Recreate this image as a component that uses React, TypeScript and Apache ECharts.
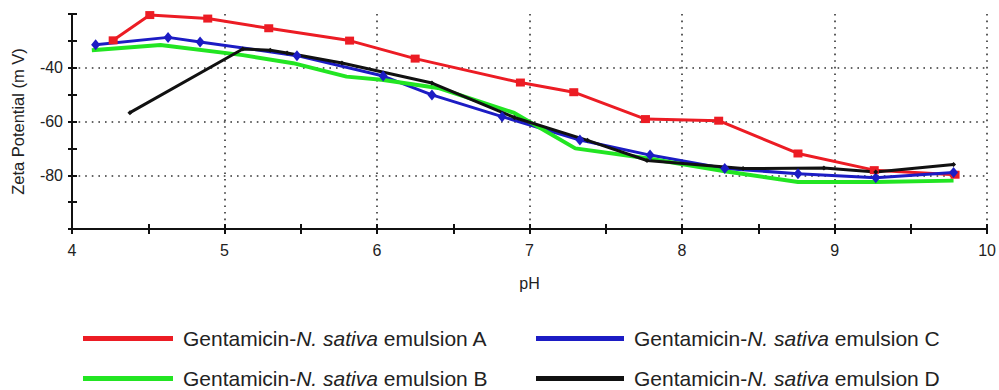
import React, { useEffect, useRef } from "react";
import * as echarts from "echarts";

// Emulsion A (red)
const phA = [4.27, 4.51, 4.89, 5.29, 5.82, 6.25, 6.94, 7.29, 7.76, 8.24, 8.76, 9.26, 9.79];
const zetaA = [-29.8, -20.4, -21.7, -25.3, -29.9, -36.6, -45.5, -49.1, -59.1, -59.7, -71.9, -78.1, -79.8];
// Emulsion B (green)
const phB = [4.13, 4.58, 5.12, 5.45, 5.8, 6.03, 6.4, 6.9, 7.3, 7.78, 8.28, 8.76, 9.27, 9.78];
const zetaB = [-33.5, -31.5, -35.3, -38.3, -43.3, -44.5, -47.5, -56.8, -70, -73.8, -78.5, -82.5, -82.5, -82];
// Emulsion C (blue)
const phC = [4.155, 4.63, 4.84, 5.475, 6.04, 6.36, 6.82, 7.33, 7.79, 8.28, 8.76, 9.27, 9.78];
const zetaC = [-31.4, -28.7, -30.4, -35.5, -43.1, -50.1, -58.2, -66.9, -72.5, -77.5, -79.4, -80.9, -79.0];
// Emulsion D (black)
const phD = [4.38, 5.12, 5.3, 5.41, 5.77, 6.36, 6.9, 7.38, 7.77, 8.4, 8.93, 9.27, 9.78];
const zetaD = [-56.7, -33.0, -33.5, -34.5, -38.2, -45.7, -58.5, -67.0, -74.5, -77.5, -77.3, -78.8, -76.0];

const seriesNames = [
  "Gentamicin-N. sativa emulsion A",
  "Gentamicin-N. sativa emulsion B",
  "Gentamicin-N. sativa emulsion C",
  "Gentamicin-N. sativa emulsion D",
];
const yLabelValues = [-40, -60, -80];
const xName = "pH";
const yName = "Zeta Potential (m V)";

function pairs(xs: number[], ys: number[]) {
  return xs.map((x, i) => [x, ys[i]]);
}

export default function App() {
  const ref = useRef<HTMLDivElement>(null);
  useEffect(() => {
    const chart = echarts.init(ref.current!, null, { renderer: "svg" });
    const font = '"Liberation Sans", Arial, sans-serif';
    const axisColor = "#111";
    const dotted: any = { color: "#333", width: 1.6, type: [1.6, 5] };
    const legendFormatter = (name: string) => {
      const m = name.match(/^(.*-)(N\. sativa)( .*)$/);
      if (!m) return name;
      return `{s|}{n|${m[1]}}{i|${m[2]}}{n|${m[3]}}`;
    };
    const rich = {
      s: { width: 5 },
      n: { fontSize: 21, fontFamily: font, color: "#222" },
      i: { fontSize: 21, fontFamily: font, color: "#222", fontStyle: "italic" },
    };
    const legendBase = {
      orient: "vertical",
      icon: "rect",
      itemWidth: 90,
      itemHeight: 5,
      itemGap: 19,
      padding: 0,
      top: 328,
      formatter: legendFormatter,
      textStyle: { fontSize: 21, fontFamily: font, color: "#222", rich },
    };
    chart.setOption({
      animation: false,
      backgroundColor: "#fff",
      grid: { left: 72, right: 9, top: 14, bottom: 161, containLabel: false },
      legend: [
        { ...legendBase, left: 83, data: [seriesNames[0], seriesNames[1]] },
        { ...legendBase, left: 536, itemWidth: 88, data: [seriesNames[2], seriesNames[3]] },
      ],
      xAxis: [
        {
          type: "value",
          position: "bottom",
          min: 4,
          max: 10,
          interval: 0.5,
          name: xName,
          nameLocation: "middle",
          nameGap: 46,
          nameTextStyle: { fontSize: 16, fontFamily: font, color: "#222" },
          axisLine: { show: true, lineStyle: { color: axisColor, width: 2 } },
          axisTick: { show: true, inside: false, length: 5, lineStyle: { color: axisColor, width: 2 } },
          axisLabel: {
            fontSize: 16,
            fontFamily: font,
            color: "#222",
            margin: 13,
            formatter: (v: number) => (Number.isInteger(v) ? String(v) : ""),
          },
          splitLine: { show: false },
        },
        {
          type: "value",
          position: "bottom",
          min: 4,
          max: 10,
          interval: 0.5,
          axisLine: { show: false },
          axisTick: { show: true, inside: true, length: 5, lineStyle: { color: axisColor, width: 2 } },
          axisLabel: { show: false },
          splitLine: { show: false },
        },
        {
          type: "value",
          position: "bottom",
          min: 4,
          max: 10,
          interval: 1,
          axisLine: { show: false },
          axisTick: { show: false },
          axisLabel: { show: false },
          splitLine: { show: true, showMinLine: false, showMaxLine: true, lineStyle: dotted },
        },
      ],
      yAxis: [
        {
          type: "value",
          position: "left",
          min: -100,
          max: -20,
          interval: 10,
          name: yName,
          nameLocation: "middle",
          nameGap: 46,
          nameTextStyle: { fontSize: 16.5, fontFamily: font, color: "#222" },
          axisLine: { show: true, lineStyle: { color: axisColor, width: 2 } },
          axisTick: { show: true, inside: false, length: 4, lineStyle: { color: axisColor, width: 2 } },
          axisLabel: {
            fontSize: 16,
            fontFamily: font,
            color: "#222",
            margin: 9,
            formatter: (v: number) => (yLabelValues.includes(v) ? String(v) : ""),
          },
          splitLine: { show: false },
        },
        {
          type: "value",
          position: "left",
          min: -100,
          max: -20,
          interval: 10,
          axisLine: { show: false },
          axisTick: { show: true, inside: true, length: 5, lineStyle: { color: axisColor, width: 2 } },
          axisLabel: { show: false },
          splitLine: { show: false },
        },
        {
          type: "value",
          position: "left",
          min: -100,
          max: -20,
          interval: 20,
          axisLine: { show: false },
          axisTick: { show: false },
          axisLabel: { show: false },
          splitLine: { show: true, showMinLine: false, showMaxLine: false, lineStyle: dotted },
        },
      ],
      series: [
        {
          name: seriesNames[0],
          type: "line",
          data: pairs(phA, zetaA),
          color: "#ec1c24",
          lineStyle: { width: 3 },
          symbol: "rect",
          symbolSize: [9, 8],
          itemStyle: { color: "#ec1c24" },
        },
        {
          name: seriesNames[2],
          type: "line",
          data: pairs(phC, zetaC),
          color: "#1c1cc4",
          lineStyle: { width: 3 },
          symbol: "diamond",
          symbolSize: [9, 11],
          itemStyle: { color: "#1c1cc4" },
        },
        {
          name: seriesNames[1],
          type: "line",
          data: pairs(phB, zetaB),
          color: "#22e522",
          lineStyle: { width: 4 },
          symbol: "none",
          itemStyle: { color: "#22e522" },
        },
        {
          name: seriesNames[3],
          type: "line",
          data: pairs(phD, zetaD),
          color: "#111111",
          lineStyle: { width: 3 },
          symbol: "diamond",
          symbolSize: 5,
          itemStyle: { color: "#111111" },
        },
      ],
    });
    return () => chart.dispose();
  }, []);
  return (
    <div
      ref={ref}
      style={{ position: "fixed", left: 0, top: 0, width: 999, height: 390, background: "#fff" }}
    />
  );
}
